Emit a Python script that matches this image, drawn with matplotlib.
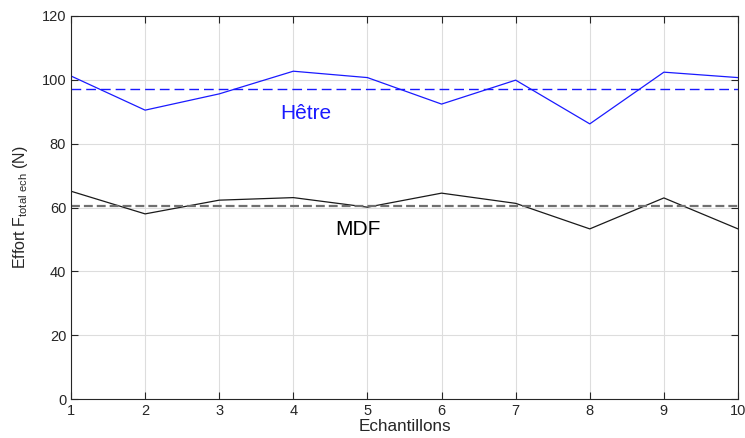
import numpy as np
import matplotlib
matplotlib.use('Agg')
from matplotlib import pyplot as plt

plt.rcParams['font.family'] = ['Liberation Sans', 'DejaVu Sans']
plt.rcParams['mathtext.fontset'] = 'custom'
plt.rcParams['mathtext.rm'] = 'Liberation Sans'

echantillons = np.arange(1, 11)
hetre = [101.2, 90.5, 95.6, 102.7, 100.7, 92.4, 99.9, 86.2, 102.4, 100.7]
mdf = [65.1, 58.0, 62.3, 63.1, 60.1, 64.5, 61.3, 53.3, 63.0, 53.3]
hetre_moy = 97.1
mdf_moy = 60.4

fig = plt.figure(figsize=(7.45, 4.38), dpi=100)
ax = fig.add_axes([0.0953, 0.089, 0.8953, 0.8745])

ax.plot(echantillons, hetre, color='#1a1aff', lw=0.9)
ax.plot(echantillons, mdf, color='#1a1a1a', lw=0.9)
ax.axhline(hetre_moy, color='#1a1aff', ls=(0, (7, 3.6)), lw=1.0)
ax.axhline(mdf_moy, color='#707070', ls=(0, (4, 1.8)), lw=1.6)

ax.text(4.17, 89.5, 'Hêtre', color='#1a1aff', fontsize=15, ha='center', va='center')
ax.text(4.87, 53.1, 'MDF', color='black', fontsize=15, ha='center', va='center')

ax.set_xlim(1, 10)
ax.set_ylim(0, 120)
ax.set_xticks(echantillons)
ax.set_yticks(np.arange(0, 121, 20))
ax.grid(True, color='#dddddd', lw=0.8)
ax.tick_params(direction='in', top=True, right=True, labelsize=10.5, colors='#262626',
               length=5, width=0.8)
for s in ax.spines.values():
    s.set_color('#262626')
    s.set_linewidth(0.8)

ax.set_xlabel('Echantillons', fontsize=12.3, color='#262626', labelpad=1)
ax.set_ylabel('Effort F$_{\\mathrm{total\\ ech}}$ (N)', fontsize=11.5, color='#262626', labelpad=8)

fig.savefig('out.png', dpi=100)
